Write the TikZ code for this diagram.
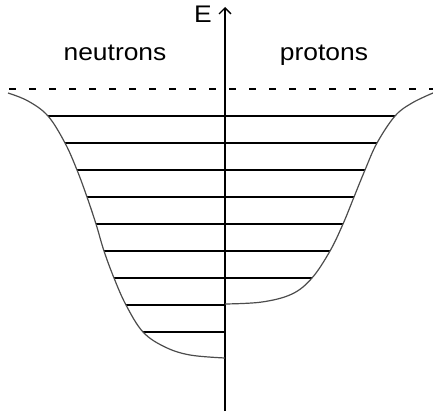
\documentclass[tikz,border=0pt]{standalone}
\usepackage{fontspec}
\setmainfont{Liberation Sans}
\usetikzlibrary{arrows.meta}
\newcommand{\widetxt}[1]{\scalebox{1.1}[1]{#1}}% labels are set a bit wide

\begin{document}
\begin{tikzpicture}[x=1pt,y=-1pt,
  lbl/.style={inner sep=0pt, anchor=base, font=\fontsize{24}{28}\selectfont},
  well/.style={line width=1.2pt, draw=black!70},
  level/.style={line width=1.3pt}]
  \useasboundingbox (0,0) rectangle (433,417);
  % energy axis
  \coordinate (axbot) at (225,411);
  \coordinate (axtop) at (225,7);
  \draw[line width=1.5pt, -{Straight Barb[length=6pt,width=12pt,line width=1.3pt]}] (axbot) -- (axtop);
  \node[lbl] (elabel) at (203,23) {\widetxt{E}};
  \node[lbl] (nlabel) at (115,61) {\widetxt{neutrons}};
  \node[lbl] (plabel) at (324,61) {\widetxt{protons}};
  % zero energy
  \draw[line width=1.2pt, dash pattern=on 7pt off 13pt] (9,89) -- (433,89);
  % levels: y / left end / right end
  \foreach \y/\l/\r in {116/48/395, 143/65/377, 170/77/365, 197/87/354, 224/96/343,
                        251/104/330, 278/114/312, 305/126/225, 332/143/225}
    \draw[level] (\l,\y) -- (\r,\y);
  % neutron well
  \draw[well] plot[smooth, tension=0.6] coordinates {(8,93) (28,101) (48,116) (65,143)
    (77,170) (87,197) (96,224) (104,251) (114,278) (126,305) (143,332) (165,347)
    (190,355) (225,358)};
  % proton well
  \draw[well] plot[smooth, tension=0.6] coordinates {(433,93) (412,103) (395,116) (377,143)
    (365,170) (354,197) (343,224) (330,251) (312,278) (292,294) (262,302) (225,304)};
\end{tikzpicture}
\end{document}
